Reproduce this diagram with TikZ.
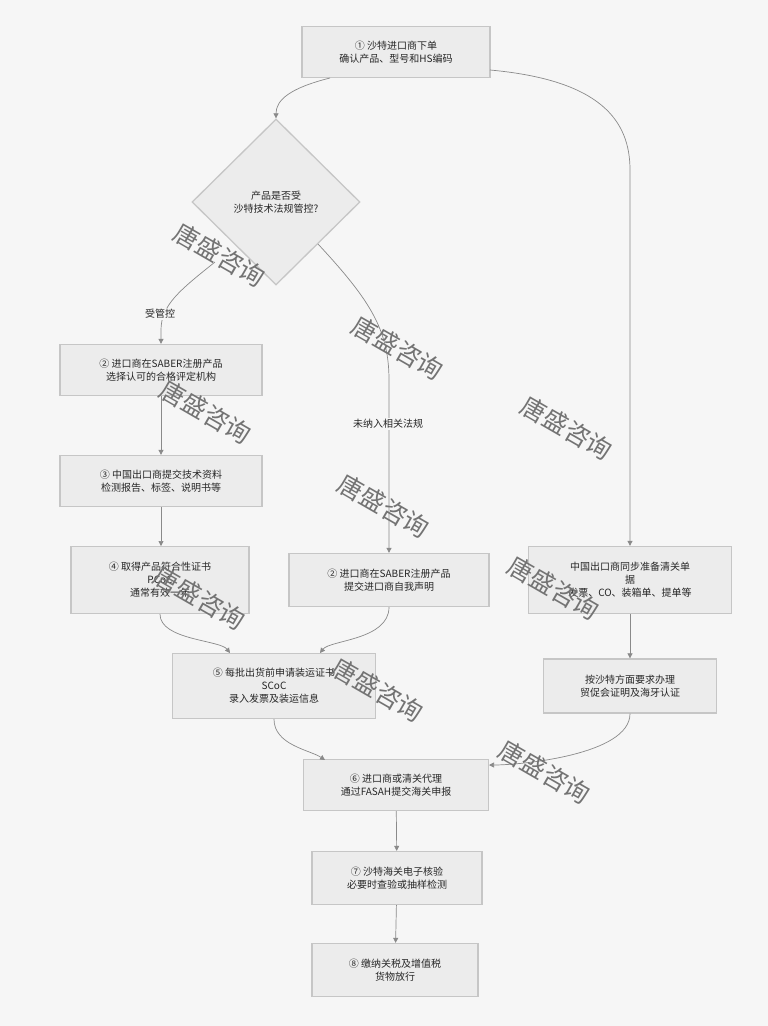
\documentclass[tikz,border=0pt]{standalone}
\usepackage{fontspec}
\setmainfont{Noto Sans CJK SC}
\usetikzlibrary{shapes.geometric,arrows.meta}
\definecolor{bg}{HTML}{F6F6F6}
\definecolor{bx}{HTML}{ECECEC}
\definecolor{bd}{HTML}{C6C6C6}
\definecolor{ln}{HTML}{8A8A8A}
\begin{document}
\begin{tikzpicture}[x=1pt,y=-1pt,
 box/.style={draw=bd,fill=bx,line width=1.3pt,align=center,font=\fontsize{10}{13}\selectfont,text=black!85,inner sep=0pt},
 arr/.style={draw=ln,line width=0.7pt,-{Triangle[length=5pt,width=5pt]}},
 lab/.style={font=\fontsize{10}{12}\selectfont,text=black!85,fill=bg,inner sep=1pt},
 wm/.style={font=\fontsize{25}{25}\selectfont,text=black!55,rotate=-30}]
\fill[bg] (0,0) rectangle (768,1026);
\useasboundingbox (0,0) rectangle (768,1026);
\node[box,minimum width=188,minimum height=51] (n1) at (396,52) {① 沙特进口商下单\\确认产品、型号和HS编码};
\node[diamond,draw=bd,fill=bx,line width=1.3pt,minimum width=168,minimum height=166,inner sep=0pt,align=center,font=\fontsize{10}{13}\selectfont,text=black!85] (d) at (276,202) {产品是否受\\沙特技术法规管控?};
\node[box,minimum width=202,minimum height=51] (a2) at (161,370) {② 进口商在SABER注册产品\\选择认可的合格评定机构};
\node[box,minimum width=202,minimum height=51] (a3) at (161,481) {③ 中国出口商提交技术资料\\检测报告、标签、说明书等};
\node[box,minimum width=178,minimum height=67] (a4) at (160,580) {④ 取得产品符合性证书\\PCoC\\通常有效一年};
\node[box,minimum width=200,minimum height=53] (b2) at (389,580) {② 进口商在SABER注册产品\\提交进口商自我声明};
\node[box,minimum width=203,minimum height=67] (r1) at (630,580) {中国出口商同步准备清关单\\据\\发票、CO、装箱单、提单等};
\node[box,minimum width=173,minimum height=54] (r2) at (630,686) {按沙特方面要求办理\\贸促会证明及海牙认证};
\node[box,minimum width=203,minimum height=65] (n5) at (274,686) {⑤ 每批出货前申请装运证书\\SCoC\\录入发票及装运信息};
\node[box,minimum width=185,minimum height=51] (n6) at (396,785) {⑥ 进口商或清关代理\\通过FASAH提交海关申报};
\node[box,minimum width=170,minimum height=53] (n7) at (397,878) {⑦ 沙特海关电子核验\\必要时查验或抽样检测};
\node[box,minimum width=166,minimum height=53] (n8) at (395,970) {⑧ 缴纳关税及增值税\\货物放行};
\coordinate (c1) at (330,78);
\coordinate (c2) at (490,70);
\coordinate (dl) at (215,262);
\coordinate (dr) at (318,244);
\draw[arr] (c1) .. controls (290,88) and (276,100) .. (d.north);
\draw[arr] (c2) .. controls (600,80) and (630,120) .. (630,170) -- (r1.north);
\draw[arr] (dl) .. controls (180,290) and (161,305) .. (161,330) -- (a2.north);
\draw[arr] (dr) .. controls (370,300) and (389,330) .. (389,380) -- (b2.north);
\node[lab] (l1) at (160,314) {受管控};
\node[lab] (l2) at (388,424) {未纳入相关法规};
\draw[arr] (a2) -- (a3);
\draw[arr] (a3.south) -- (161,546);
\draw[arr] (r1) -- (r2);
\draw[arr] (a4.south) .. controls (160,640) and (220,640) .. (230,653);
\draw[arr] (b2.south) .. controls (389,640) and (330,640) .. (320,653);
\draw[arr] (n5.south) .. controls (274,745) and (310,750) .. (325,760);
\draw[arr] (r2.south) .. controls (630,755) and (520,765) .. (489,765);
\draw[arr] (n6) -- (n7);
\draw[arr] (n7) -- (n8);
\foreach \p in {(220,255),(398,348),(206,412),(567,428),(384,506),(554,588),(200,598),(378,690),(545,772)}
  \node[wm] at \p {唐盛咨询};
\end{tikzpicture}
\end{document}
